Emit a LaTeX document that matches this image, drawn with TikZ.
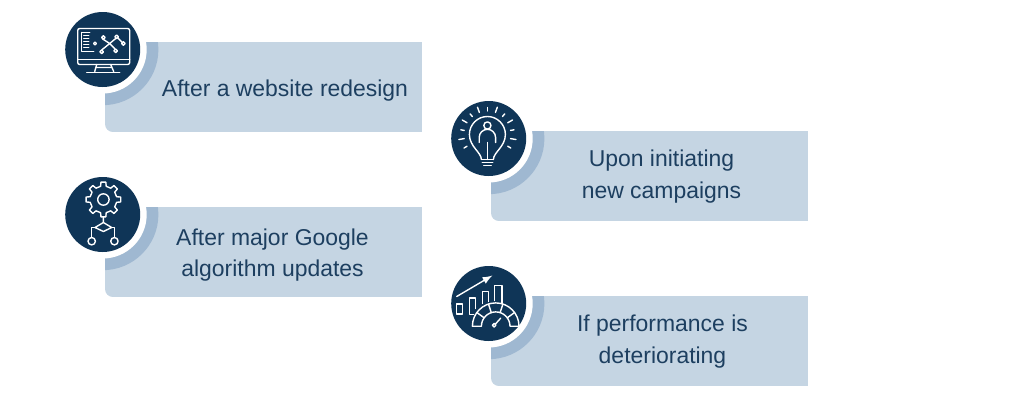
\documentclass[tikz,border=0pt]{standalone}
\usepackage{fontspec}
\setmainfont{Liberation Sans}
\definecolor{navy}{HTML}{0F3557}
\definecolor{cardblue}{HTML}{C5D5E3}
\definecolor{ringblue}{HTML}{9FB8D1}
\definecolor{textblue}{HTML}{1D3F60}
\tikzset{
    iconline/.style={draw=white,line width=0.7pt,line join=round,line cap=round},
    cardtext/.style={text=textblue,font=\fontsize{11.47}{15.8}\selectfont,align=center,inner sep=0pt},
    monitoricon/.pic={
      \draw[iconline,rounded corners=1pt] (-25,15) rectangle (27,-21);
      \draw[iconline] (-25,10) -- (27,10);
      \draw[iconline] (-21,-17) -- (-13,-17) (-21,-17) -- (-21,2) -- (-9,2);
      \foreach \ly in {-14,-11,-8,-5,-2}
        \draw[iconline] (-19,\ly) -- (-14,\ly);
      \draw[iconline] (-7.7,-6) circle[radius=1.5];
      \draw[iconline] (-1,2.3) circle[radius=1.8] (0.7,-12) circle[radius=1.8] (13,1.3) circle[radius=1.8]
                      (14,-12.7) circle[radius=1.8] (20.7,-6) circle[radius=1.8];
      \draw[iconline] (-1,0.5) -- (7,-6) -- (0,-10.5) (7,-6) -- (12.5,-0.5) (7,-6) -- (13,-11) (15.3,-11.4) -- (19.5,-7.2);
      \draw[iconline] (-6,15) -- (-8,22) (8,15) -- (11,22) (-6,18) -- (9,18);
      \draw[iconline] (-16,23) -- (17,23);
    },
    gearicon/.pic={
      \begin{scope}[shift={(0.7,-15)}]
        \draw[iconline] (0,0) circle[radius=5.7];
        \draw[iconline] (78:13.5) foreach \ga in {0,45,...,315}{
          -- (\ga+78:13.5) -- (\ga+82:17.5) -- (\ga+98:17.5) -- (\ga+102:13.5) -- (\ga+123:13.5)} -- cycle;
      \end{scope}
      \draw[iconline] (0.7,2.3) -- (0.7,8) -- (9,13) -- (0.7,17) -- (-7.7,13) -- (0.7,8);
      \draw[iconline] (-7.7,13) -- (-11,13) -- (-11,23) (9,13) -- (11.7,13) -- (11.7,23);
      \draw[iconline] (-11,26.7) circle[radius=3.7] (11.7,26.7) circle[radius=3.7];
    },
    bulbicon/.pic={
      \begin{scope}[shift={(-1.3,-4)}]
        \foreach \ra/\rb in {-30/27,-10/29,10/27,30/29,50/27,70/29,90/27,110/29,130/27,150/29,170/27,190/29,210/27}
          \draw[iconline] (-\ra:23.5) -- (-\ra:\rb);
        \draw[iconline] (-6,25) .. controls (-6,18) and (-18,12) .. (-18,0)
          arc[start angle=180,end angle=360,radius=18]
          .. controls (18,12) and (6,18) .. (6,25);
      \end{scope}
      \draw[iconline] (-7,21) -- (4.5,21) (-6.5,24) -- (4,24) (-5,27) -- (2.5,27);
      \draw[iconline] (-1.3,-13) circle[radius=3.6];
      \draw[iconline] (-9.5,4) -- (-9.5,-1) arc[start angle=180,end angle=360,radius=8.2] -- (6.9,4);
      \draw[iconline] (-1.3,4) -- (-1.3,21);
    },
    gaugeicon/.pic={
      \draw[iconline,-latex] (-32,-7) -- (3.7,-28);
      \draw[iconline] (-32.3,0.3) rectangle (-26.3,10.3);
      \draw[iconline] (-13.3,5) -- (-13.3,-5.7) -- (-19,-5.7) -- (-19,11) -- (-15,11);
      \draw[iconline] (-6.3,0) -- (-6.3,-12.3) -- (0,-12.3) -- (0,-2);
      \draw[iconline] (6,-3) -- (6,-18.3) -- (13.3,-18.3) -- (13.3,0);
      \begin{scope}[shift={(7,22.7)}]
        \draw[iconline] (-23.3,0) arc[start angle=180,end angle=360,radius=23.3] -- (14.3,0)
          arc[start angle=0,end angle=-180,radius=14.3] -- cycle;
        \foreach \ta in {36,72,108,144}
          \draw[iconline] (-\ta:14.3) -- (-\ta:23.3);
        \draw[iconline] (-1.5,-1) circle[radius=1.8];
        \draw[iconline] (-0.2,-2.3) -- (5,-8);
      \end{scope}
    },
}
% one card with its ring, its round badge and its text
\newcommand{\infocard}[6]{
  \begin{scope}[shift={(#1,#2)}]
    \begin{scope}
      \clip (0,0) {[rounded corners=4pt] -- (0,90) -- (160,90)} -- (317.7,90) -- (317.7,0) -- cycle;
      \fill[cardblue] (0,0) rectangle (317.7,90);
      \fill[ringblue] (-2.3,7.5) circle[radius=55.7];
    \end{scope}
    \fill[white] (-2.3,7.5) circle[radius=44];
    \node[circle,fill=navy,minimum size=37.5pt,inner sep=0pt] (#4) at (-2.3,7.5) {};
    \pic at (#4.center) {#3};
    \node[cardtext] (#4text) at (#5) {#6};
  \end{scope}
}
\begin{document}
\begin{tikzpicture}[x=0.5pt,y=-0.5pt]
    \useasboundingbox (0,0) rectangle (1024,408);
    \infocard{105}{42}{monitoricon}{redesign}{180,48.5}{After a website redesign}
    \infocard{105}{207}{gearicon}{algorithm}{167.5,48}{After major Google\\algorithm updates}
    \infocard{491}{131}{bulbicon}{campaigns}{170.5,45.5}{Upon initiating\\new campaigns}
    \infocard{491}{296}{gaugeicon}{performance}{171.5,45.5}{If performance is\\deteriorating}
\end{tikzpicture}
\end{document}
